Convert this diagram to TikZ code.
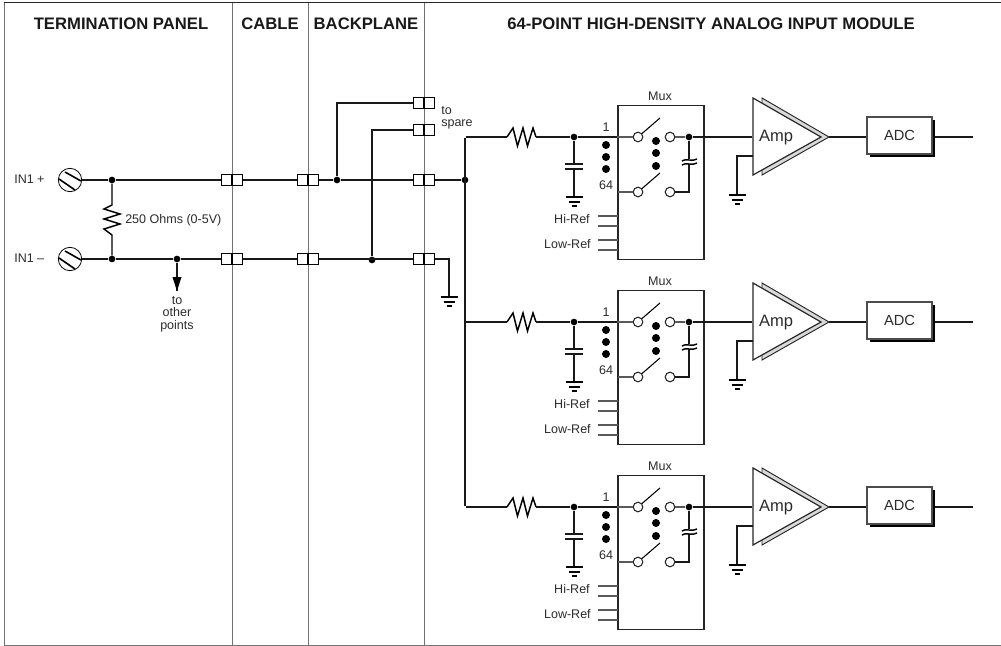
\documentclass[tikz,border=0pt]{standalone}
\usepackage{fontspec}
\setmainfont{Liberation Sans}
\usetikzlibrary{calc}
\definecolor{ink}{HTML}{2B2B2B}
\tikzset{h/.style={font=\fontsize{12.5}{13}\selectfont\bfseries,text=black!90}}
\tikzset{l/.style={font=\fontsize{9.4}{9.3}\selectfont,text=ink,inner sep=0pt,align=center}}
\tikzset{wire/.style={line width=1.5pt,black!90}}
\tikzset{thin wire/.style={line width=0.9pt,black!65}}
\tikzset{divider/.style={line width=0.75pt,black!55}}
\tikzset{dot/.style={circle,fill=black,inner sep=0pt,minimum size=5pt}}
\tikzset{fat dot/.style={circle,fill=black,inner sep=0pt,minimum size=6pt}}
\tikzset{pole/.style={circle,draw=black!85,line width=0.8pt,fill=white,inner sep=0pt,minimum size=7.2pt}}
\tikzset{conn/.style={draw=black,line width=1.2pt,fill=white,minimum width=15.5pt,minimum height=8pt,inner sep=0pt}}
\tikzset{screw/.style={circle,draw=black,line width=0.6pt,fill=white,inner sep=0pt,minimum size=17.5pt}}
\tikzset{pics/earth/.style={code={
  \draw [line width=1pt] (-8.5,0)--(8.5,0);
  \draw [line width=1pt] (-5.5,5)--(5.5,5);
  \draw [line width=1.3pt] (-2.5,9)--(2.5,9);
}}}
% one connector: box with the divider running through it
\newcommand{\connbox}[3]{
  \node [conn] (#1) at (#2,#3) {};
  \draw [line width=1.2pt] (#1.north)--(#1.south);
}
\begin{document}
\begin{tikzpicture}[x=0.75pt,y=-0.75pt]
  \useasboundingbox (0,0) rectangle (1001,646);
  \draw [line width=0.75pt,black!85] (4,2.7)--(1001,2.7);
  \draw [divider] (4,2.7)--(4,645)--(1001,645);
  \draw [divider] (232,3)--(232,645);
  \draw [divider] (308,3)--(308,645);
  \draw [divider] (424,3)--(424,645);
  \node [h] (T1) at (121,24) {TERMINATION PANEL};
  \node [h] (T2) at (270,24) {CABLE};
  \node [h] (T3) at (366,24) {BACKPLANE};
  \node [h] (T4) at (711,24) {64-POINT HIGH-DENSITY ANALOG INPUT MODULE};

  \node [l,anchor=west] (P) at (14,179) {IN1 +};
  \node [l,anchor=west] (N) at (14,258) {IN1 --};
  \node [screw] (S1) at (70,180) {};
  \node [screw] (S2) at (70,259) {};
  \foreach \s in {S1,S2} {
    \draw [line width=1.2pt] ($(\s)+(-5,-8)$)--($(\s)+(11,1)$);
    \draw [line width=1.2pt] ($(\s)+(-11,-1)$)--($(\s)+(5,10)$);
  }
  \connbox{A1}{232}{180}
  \connbox{A2}{232}{259}
  \connbox{B1}{308}{180}
  \connbox{B2}{308}{259}
  \connbox{C1}{424}{180}
  \connbox{C2}{424}{259}
  \connbox{C3}{424}{103}
  \connbox{C4}{424}{130}
  \node [dot] (J1) at (112,180) {};
  \node [dot] (J2) at (112,259) {};
  \node [dot] (J3) at (177,259) {};
  \node [dot] (J4) at (337,180) {};
  \node [dot] (J5) at (372,260) {};
  \node [dot] (J6) at (465,180) {};
  \draw [wire] (S1)--(J1)--(A1) (A1)--(B1) (B1)--(J4)--(C1) (C1)--(J6);
  \draw [wire] (S2)--(J2)--(J3)--(A2) (A2)--(B2) (B2)--(C2);
  \draw [wire] (J4)|-(C3);
  \draw [wire] (J5)|-(C4);
  % terminating resistor
  \draw [line width=1.1pt] (J1)--(112,205)--(104,209)--(120,214)--(104,219)--(120,224)--(104,229)--(112,235)--(J2);
  \node [l,anchor=west] (R) at (125,220) {250 Ohms (0-5V)};
  \coordinate (D) at (177,291);
  \draw [wire] (J3)--(D);
  \fill (D)++(-4.5,-14)--++(9,0)--(D)--cycle;
  \node [l,anchor=north] (O) at (177,296) {to\\other\\points};
  \node [l,anchor=west,align=left] (Sp) at (441,118) {to\\spare};
  \coordinate (G) at (449,297);
  \draw [wire] (C2)-|(G);
  \pic at (G) {earth};

  \foreach \d [count=\n] in {0,185,370} {
    \begin{scope}[yshift=-\d*0.75pt]
      \node (In\n) at (465,137) [inner sep=0pt] {};
      \node [draw=black!85,line width=0.9pt,minimum width=64.5pt,minimum height=115pt,inner sep=0pt] (M\n) at (661,182.5) {};
      \node [l] (MT\n) at (660,96) {Mux};
      \node [dot] (K\n) at (574,137) {};
      \node [pole] (SA\n) at (638,137) {};
      \node [pole] (SB\n) at (670,137) {};
      \node [pole] (SC\n) at (638,192) {};
      \node [pole] (SD\n) at (670,192) {};
      \node [dot] (L\n) at (689,137) {};
      \node [l] (One\n) at (606,127) {1};
      \node [l] (Sf\n) at (606,185) {64};
      \node [fat dot] at (606,145) {};
      \node [fat dot] at (606,157) {};
      \node [fat dot] at (606,169) {};
      \node [fat dot] at (656,141) {};
      \node [fat dot] at (656,153) {};
      \node [fat dot] at (656,166) {};
      \draw [wire] (In\n)--(507,137);
      \draw [line width=1.1pt] (507,137)--(513,128)--(517.5,146)--(523,128)--(527.5,146)--(533,128)--(536,137);
      \draw [wire] (536,137)--(K\n)--(M\n.west |- K\n);
      \draw [thin wire] (M\n.west |- K\n)--(SA\n);
      \draw [line width=0.8pt] (SA\n)--(660,118);
      \draw [thin wire] (SB\n)--(L\n);
      \draw [wire] (L\n)--(752,137);
      \draw [wire] (SD\n)-|(689,164);
      \draw [wire] (L\n)--(689,159);
      \draw [line width=1.1pt] (682,161)..controls (685,158) and (693,162) .. (697,159);
      \draw [line width=1.1pt] (682,165)..controls (685,162) and (693,166) .. (697,163);
      \draw [thin wire] (618,192)--(SC\n);
      \draw [line width=0.8pt] (SC\n)--(660,173);
      \draw [wire] (K\n)--(574,164);
      \draw [wire] (565,164)--(583,164);
      \draw [wire] (565,169)--(583,169);
      \draw [wire] (574,169)--(574,197);
      \pic at (574,197) {earth};
      \draw [thin wire] (598,216)--(618,216);
      \draw [thin wire] (598,226)--(618,226);
      \draw [thin wire] (598,240)--(618,240);
      \draw [thin wire] (598,250)--(618,250);
      \node [l,anchor=east] (HR\n) at (590,219) {Hi-Ref};
      \node [l,anchor=east] (LR\n) at (591,244) {Low-Ref};
      % amplifier with its shaded edge
      \draw [black!85,line width=0.7pt,fill=black!15] (762,98)--(829,137)--(762,175)--cycle;
      \draw [black!85,line width=0.9pt,fill=white] (753,98)--(821,137)--(753,175)--cycle;
      \node [font=\fontsize{12.4}{13}\selectfont,text=ink,inner sep=0pt] (Am\n) at (776,138) {Amp};
      \coordinate (AG\n) at (737,195);
      \draw [wire] (753,156)-|(AG\n);
      \pic at (AG\n) {earth};
      \fill (870,120) rectangle (935,157);
      \node [draw=black!70,line width=0.8pt,fill=white,minimum width=48.75pt,minimum height=27.75pt,inner sep=0pt,font=\fontsize{11}{12}\selectfont,text=ink] (ADC\n) at (899.5,135.5) {ADC};
      \draw [wire] (829,137)--(ADC\n.west |- 0,137);
      \draw [wire] (935,137)--(973,137);
    \end{scope}
  }
  \draw [wire] (In1)--(In3);
\end{tikzpicture}
\end{document}
